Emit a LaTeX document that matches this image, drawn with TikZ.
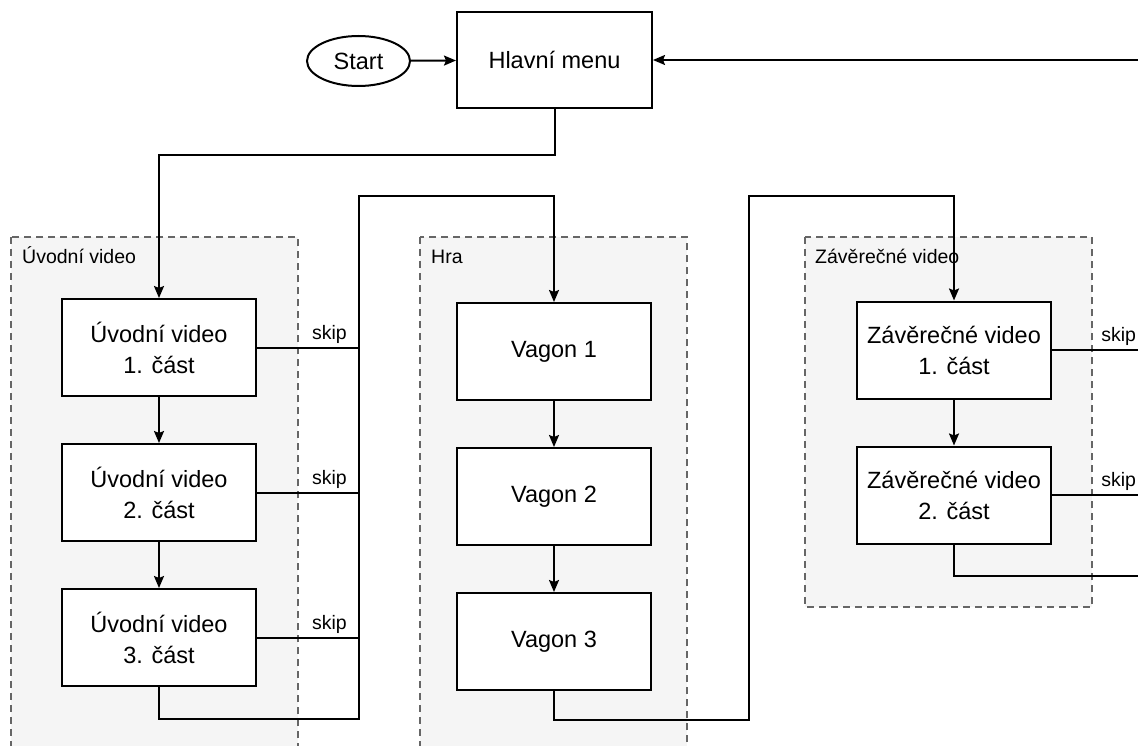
\documentclass[tikz,border=0pt]{standalone}
\usepackage{fontspec}
\setmainfont{Liberation Sans}
\usetikzlibrary{arrows.meta,positioning,shapes.geometric}

\begin{document}
\begin{tikzpicture}[x=1pt,y=-1pt,
  box/.style={draw,line width=2pt,fill=white,minimum width=194pt,minimum height=97pt,
    align=center,font=\fontsize{23.5}{31}\selectfont},
  group/.style={draw=black!60,fill=black!4,line width=2pt,dash pattern=on 7pt off 5pt},
  grouplabel/.style={anchor=base west,inner sep=0pt,font=\fontsize{19.5}{23}\selectfont},
  link/.style={line width=2pt},
  arr/.style={link,-{Stealth[length=12pt,width=10pt,inset=2pt]}},
  skiplabel/.style={above,inner sep=3pt,font=\fontsize{19.5}{23}\selectfont},
  node distance=46pt]

\clip (0,0) rectangle (1138,746);

%groups
\draw[group] (11,237) rectangle (298,770);
\node[grouplabel] (uvlabel) at (22,264) {Úvodní video};
\draw[group] (420,237) rectangle (687,770);
\node[grouplabel] (hralabel) at (431,264) {Hra};
\draw[group] (805,237) rectangle (1092,607);
\node[grouplabel] (zvlabel) at (815,264) {Závěrečné video};

%menu
\node[draw,ellipse,line width=2pt,minimum width=103pt,minimum height=50pt,inner sep=0pt,
  font=\fontsize{23.5}{31}\selectfont] (start) at (358.5,61) {Start};
\node[box,minimum width=195pt,minimum height=96pt] (menu) at (554.5,60) {Hlavní menu};

%intro video
\node[box] (uv1) at (159,347.5) {Úvodní video\\1. část};
\node[box,below=of uv1] (uv2) {Úvodní video\\2. část};
\node[box,below=of uv2] (uv3) {Úvodní video\\3. část};

%game
\node[box] (v1) at (554,351.5) {Vagon 1};
\node[box,below=of v1] (v2) {Vagon 2};
\node[box,below=of v2] (v3) {Vagon 3};

%final video
\node[box] (zv1) at (954,350) {Závěrečné video\\1. část};
\node[box,below=of zv1] (zv2) {Závěrečné video\\2. část};

\coordinate (uvbus) at (359,196);
\coordinate (hrabus) at (749,196);
\coordinate (rbus) at (1150,60);

%links
\draw[arr] (start) -- (menu);
\draw[arr] (menu.south) -- ++(0,46) -| (uv1.north);
\draw[arr] (uv1) -- (uv2);
\draw[arr] (uv2) -- (uv3);
\draw[arr] (v1) -- (v2);
\draw[arr] (v2) -- (v3);
\draw[arr] (zv1) -- (zv2);

\draw[arr] (uv3.south) -- ++(0,32) -| (uvbus) -| (v1.north);
\draw[arr] (v3.south) -- ++(0,29) -| (hrabus) -| (zv1.north);
\draw[arr] (zv2.south) -- ++(0,31) -| (rbus) -- (menu.east);

%skip
\foreach \n in {uv1,uv2,uv3}
  \draw[link] (\n.east) -- (\n.east -| uvbus) node[skiplabel,pos=0.71] (skip-\n) {skip};
\foreach \n in {zv1,zv2}
  \draw[link] (\n.east) -- (\n.east -| rbus) node[skiplabel,pos=0.68] (skip-\n) {skip};

\end{tikzpicture}
\end{document}
